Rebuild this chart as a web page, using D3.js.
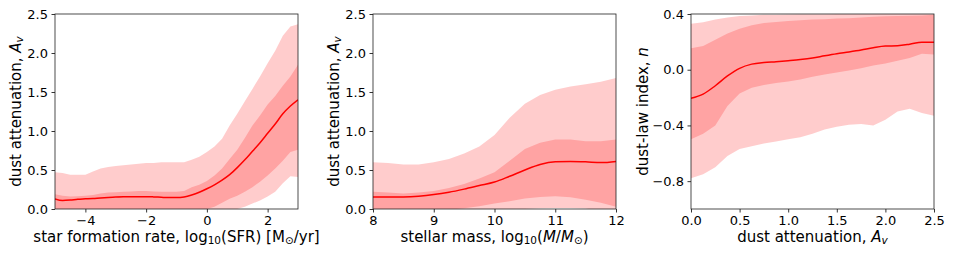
<!DOCTYPE html>
<html><head><meta charset="utf-8">
<script src="https://cdn.jsdelivr.net/npm/d3@7"></script>
<style>
html,body{margin:0;padding:0;background:#fff;}
svg{display:block;font-family:"DejaVu Sans",sans-serif;}
</style></head>
<body><svg id="c" width="954" height="256"></svg>
<script>
// ---------- Panel 1: SFR ----------
const sfrX = [-5,-4.75,-4.5,-4.25,-4,-3.75,-3.5,-3.25,-3,-2.75,-2.5,-2.25,-2,-1.75,-1.5,-1.25,-1,-0.75,-0.5,-0.25,0,0.25,0.5,0.75,1,1.25,1.5,1.75,2,2.25,2.5,2.75,3];
const sfrMedian = [0.13,0.11,0.115,0.125,0.13,0.135,0.142,0.148,0.153,0.156,0.158,0.158,0.158,0.155,0.15,0.146,0.146,0.155,0.18,0.215,0.26,0.31,0.37,0.44,0.53,0.63,0.74,0.85,0.97,1.09,1.22,1.32,1.40];
const sfrHi95 = [0.47,0.46,0.44,0.44,0.44,0.48,0.52,0.54,0.55,0.56,0.57,0.58,0.59,0.59,0.60,0.60,0.60,0.60,0.63,0.67,0.73,0.80,0.90,1.07,1.22,1.38,1.54,1.70,1.87,2.03,2.22,2.34,2.37];
const sfrLo95 = [-0.1,-0.1,-0.1,-0.1,-0.1,-0.1,-0.1,-0.1,-0.1,-0.1,-0.1,-0.1,-0.1,-0.1,-0.1,-0.1,-0.1,-0.1,-0.1,-0.1,-0.1,-0.08,-0.06,-0.03,0.0,0.03,0.07,0.11,0.16,0.22,0.33,0.42,0.41];
const sfrHi68 = [0.19,0.17,0.16,0.165,0.17,0.18,0.20,0.21,0.215,0.22,0.225,0.23,0.23,0.225,0.22,0.22,0.22,0.23,0.28,0.31,0.36,0.43,0.52,0.64,0.76,0.91,1.07,1.20,1.34,1.45,1.58,1.70,1.85];
const sfrLo68 = [-0.05,-0.05,-0.05,-0.05,-0.05,-0.05,-0.05,-0.05,-0.05,-0.05,-0.05,-0.05,-0.05,-0.05,-0.05,-0.05,-0.05,-0.05,-0.03,-0.01,0.0,0.03,0.08,0.13,0.17,0.22,0.28,0.35,0.43,0.52,0.62,0.73,0.76];
const sfrXTicks = [-4,-2,0,2];

// ---------- Panel 2: stellar mass ----------
const massX = [8,8.25,8.5,8.75,9,9.25,9.5,9.75,10,10.25,10.5,10.75,11,11.25,11.5,11.75,12];
const massMedian = [0.155,0.153,0.155,0.165,0.185,0.215,0.255,0.30,0.345,0.42,0.50,0.57,0.605,0.61,0.605,0.595,0.61];
const massHi95 = [0.60,0.59,0.57,0.57,0.60,0.64,0.71,0.80,0.95,1.17,1.35,1.46,1.53,1.57,1.60,1.63,1.68];
const massLo95 = [-0.1,-0.1,-0.1,-0.1,-0.1,-0.1,-0.08,-0.05,-0.03,-0.01,0.0,0.01,0.012,0.012,0.005,-0.02,-0.05];
const massHi68 = [0.22,0.21,0.20,0.21,0.23,0.27,0.32,0.39,0.47,0.62,0.77,0.85,0.89,0.89,0.87,0.87,0.89];
const massLo68 = [-0.05,-0.05,-0.05,-0.04,-0.03,-0.01,0.01,0.035,0.07,0.10,0.135,0.155,0.165,0.15,0.12,0.08,0.03];
const massXTicks = [8,9,10,11,12];

// ---------- Panel 3: dust-law index ----------
const avX = [0,0.125,0.25,0.375,0.5,0.625,0.75,0.875,1.0,1.125,1.25,1.375,1.5,1.625,1.75,1.875,2.0,2.125,2.25,2.375,2.5];
const avMedian = [-0.205,-0.175,-0.115,-0.045,0.01,0.04,0.052,0.058,0.065,0.073,0.084,0.10,0.115,0.128,0.142,0.158,0.17,0.172,0.183,0.198,0.197];
const avHi95 = [0.33,0.34,0.36,0.375,0.385,0.39,0.395,0.395,0.397,0.398,0.398,0.399,0.40,0.40,0.40,0.40,0.405,0.41,0.41,0.41,0.41];
const avLo95 = [-0.78,-0.75,-0.70,-0.62,-0.57,-0.55,-0.53,-0.515,-0.50,-0.485,-0.46,-0.43,-0.41,-0.395,-0.39,-0.40,-0.36,-0.30,-0.28,-0.31,-0.33];
const avHi68 = [0.155,0.17,0.215,0.26,0.295,0.32,0.335,0.343,0.35,0.355,0.36,0.363,0.367,0.37,0.375,0.38,0.383,0.385,0.388,0.39,0.395];
const avLo68 = [-0.50,-0.46,-0.40,-0.26,-0.17,-0.13,-0.11,-0.095,-0.085,-0.07,-0.05,-0.035,-0.02,-0.005,0.01,0.03,0.045,0.065,0.085,0.115,0.11];
const avXTicks = [0,0.5,1.0,1.5,2.0,2.5];

const avYTicks = [0,0.5,1.0,1.5,2.0,2.5];
const nYTicks = [-0.8,-0.4,0.0,0.4];

const svg = d3.select("#c");
const plotTop = 14, plotBottom = 209;
const fmtMinus = s => s.replace("-", "\u2212");

function addRich(textSel, parts) {
  parts.forEach(p => {
    const t = textSel.append("tspan").text(p.t);
    if (p.it) t.attr("font-style", "italic");
    if (p.sub) t.attr("baseline-shift", "-22%").attr("font-size", "70%");
  });
}

const AvParts = [{t:"dust attenuation, "},{t:"A",it:true},{t:"v",it:true,sub:true}];

function panel(cfg, idx) {
  const g = svg.append("g");
  const x = d3.scaleLinear().domain(cfg.xDomain).range([cfg.left, cfg.right]);
  const y = d3.scaleLinear().domain(cfg.yDomain).range([plotBottom, plotTop]);
  const clipId = "clip" + idx;
  svg.append("clipPath").attr("id", clipId).append("rect")
    .attr("x", cfg.left).attr("y", plotTop).attr("width", cfg.right - cfg.left).attr("height", plotBottom - plotTop);
  const pg = g.append("g").attr("clip-path", `url(#${clipId})`);
  const idxs = d3.range(cfg.xs.length);
  const area = (lo, hi) => d3.area().x(i => x(cfg.xs[i])).y0(i => y(lo[i])).y1(i => y(hi[i]));
  pg.append("path").datum(idxs).attr("d", area(cfg.lo95, cfg.hi95)).attr("fill", "#ff0000").attr("fill-opacity", 0.2);
  pg.append("path").datum(idxs).attr("d", area(cfg.lo68, cfg.hi68)).attr("fill", "#ff0000").attr("fill-opacity", 0.2);
  pg.append("path").datum(idxs)
    .attr("d", d3.line().x(i => x(cfg.xs[i])).y(i => y(cfg.med[i])).curve(d3.curveMonotoneX))
    .attr("fill", "none").attr("stroke", "#ff0000").attr("stroke-width", 1.5);

  const xa = g.append("g").attr("transform", `translate(0,${plotBottom})`)
    .call(d3.axisBottom(x).tickValues(cfg.xTicks).tickSize(3.5).tickPadding(3.5).tickFormat(cfg.xFmt));
  const ya = g.append("g").attr("transform", `translate(${cfg.left},0)`)
    .call(d3.axisLeft(y).tickValues(cfg.yTicks).tickSize(3.5).tickPadding(3.5).tickFormat(cfg.yFmt));
  [xa, ya].forEach(a => {
    a.select(".domain").remove();
    a.selectAll("line").attr("stroke", "#000").attr("stroke-width", 0.8);
    a.selectAll("text").attr("font-size", 13).attr("fill", "#000").attr("font-family", "DejaVu Sans");
  });
  g.append("rect").attr("x", cfg.left).attr("y", plotTop).attr("width", cfg.right - cfg.left).attr("height", plotBottom - plotTop)
    .attr("fill", "none").attr("stroke", "#222").attr("stroke-width", 0.8);

  const xl = g.append("text").attr("x", (cfg.left + cfg.right) / 2).attr("y", 242)
    .attr("text-anchor", "middle").attr("font-size", 15).attr("fill", "#000");
  addRich(xl, cfg.xLabel);
  const yl = g.append("text").attr("transform", `translate(${cfg.ylX},${(plotTop + plotBottom) / 2}) rotate(-90)`)
    .attr("text-anchor", "middle").attr("font-size", 15).attr("fill", "#000");
  addRich(yl, cfg.yLabel);
}

const f1 = d => fmtMinus(d3.format("d")(d));
const f1d = d => fmtMinus(d3.format(".1f")(d));

panel({xDomain:[-5,3], yDomain:[0,2.5], left:55, right:298, xs:sfrX, med:sfrMedian, hi95:sfrHi95, lo95:sfrLo95, hi68:sfrHi68, lo68:sfrLo68,
  xTicks:sfrXTicks, yTicks:avYTicks, xFmt:f1, yFmt:f1d, ylX:21,
  xLabel:[{t:"star formation rate, log"},{t:"10",sub:true},{t:"(SFR) [M"},{t:"\u2299",sub:true},{t:"/yr]"}],
  yLabel:AvParts}, 1);
panel({xDomain:[8,12], yDomain:[0,2.5], left:373, right:616, xs:massX, med:massMedian, hi95:massHi95, lo95:massLo95, hi68:massHi68, lo68:massLo68,
  xTicks:massXTicks, yTicks:avYTicks, xFmt:f1, yFmt:f1d, ylX:339,
  xLabel:[{t:"stellar mass, log"},{t:"10",sub:true},{t:"("},{t:"M",it:true},{t:"/"},{t:"M",it:true},{t:"\u2299",sub:true},{t:")"}],
  yLabel:AvParts}, 2);
panel({xDomain:[0,2.5], yDomain:[-1.0,0.4], left:691, right:934, xs:avX, med:avMedian, hi95:avHi95, lo95:avLo95, hi68:avHi68, lo68:avLo68,
  xTicks:avXTicks, yTicks:nYTicks, xFmt:f1d, yFmt:f1d, ylX:648,
  xLabel:AvParts,
  yLabel:[{t:"dust-law index, "},{t:"n",it:true}]}, 3);
</script></body></html>
